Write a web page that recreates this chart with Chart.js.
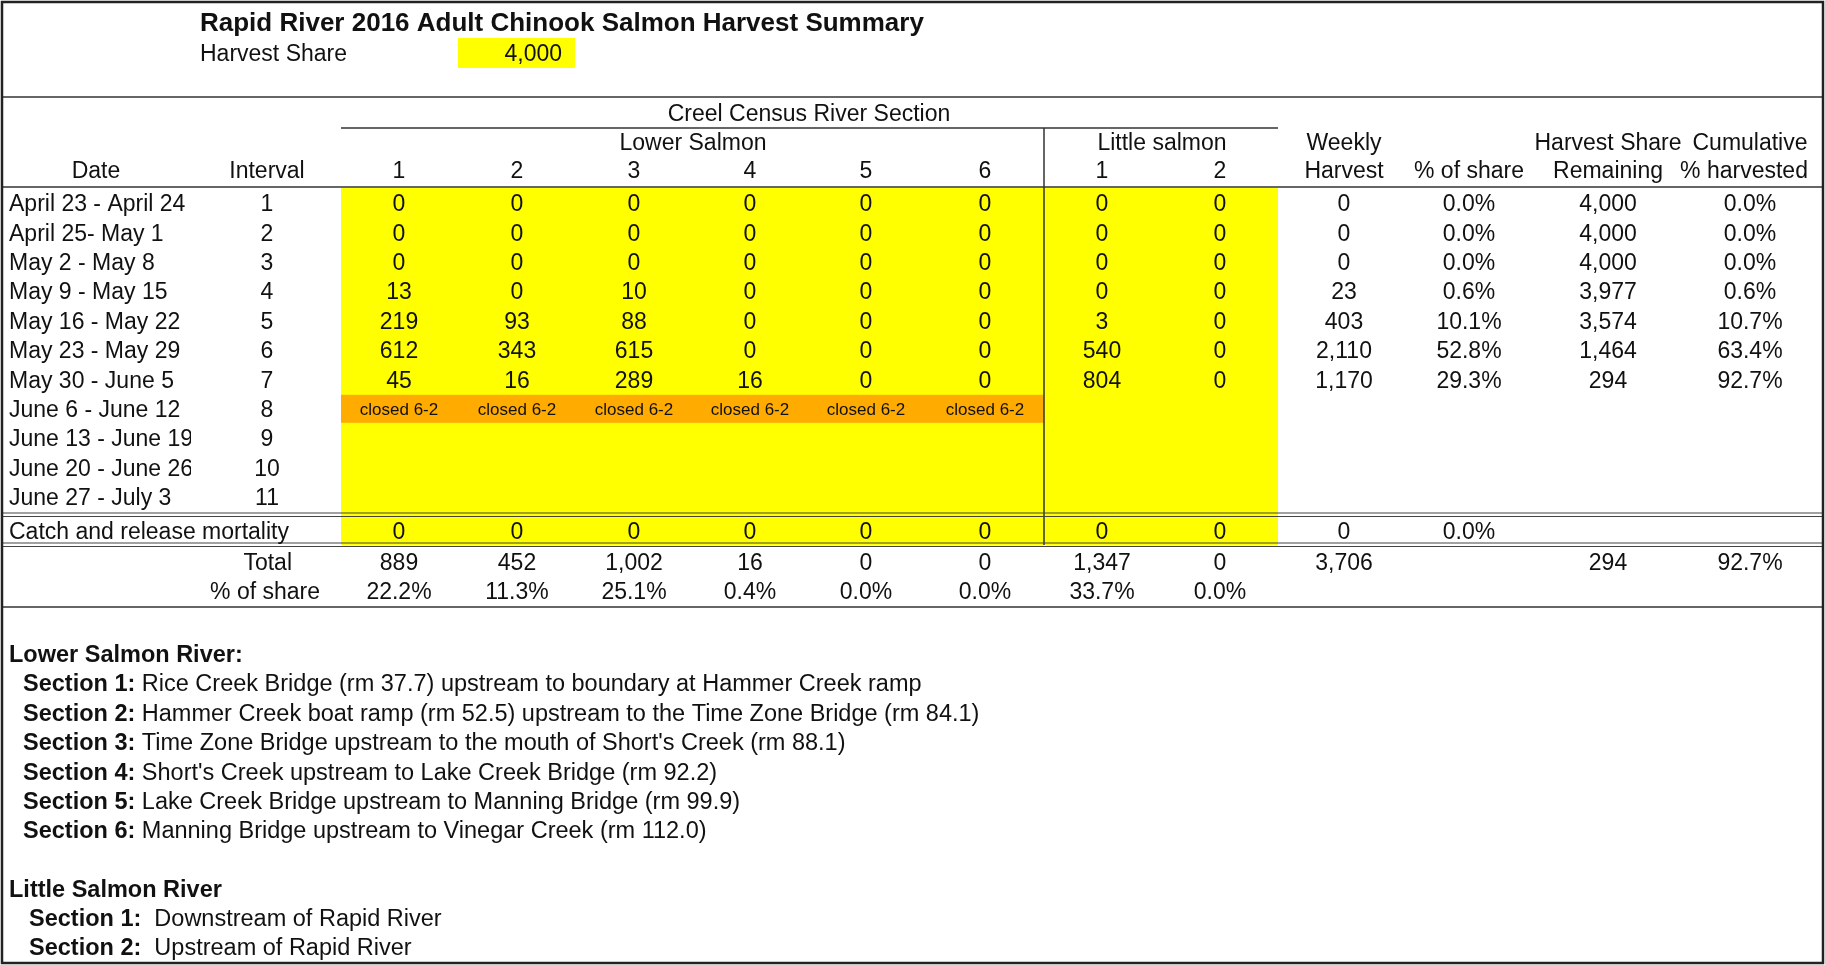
<!DOCTYPE html>
<html>
<head>
<meta charset="utf-8">
<title>Rapid River 2016 Adult Chinook Salmon Harvest Summary</title>
<script src="https://cdn.jsdelivr.net/npm/chart.js@4.4.1/dist/chart.umd.min.js"></script>
<style>
  html, body { margin: 0; padding: 0; background: #fff; }
  #wrap { width: 1825px; height: 965px; }
</style>
</head>
<body>
<div id="wrap"><canvas id="sheet" width="1825" height="965"></canvas></div>
<script>
// ============== Data ==============
const HARVEST_SHARE = 4000;

const DATES = [
  "April 23 - April 24", "April 25- May 1", "May 2 - May 8", "May 9 - May 15",
  "May 16 - May 22", "May 23 - May 29", "May 30 - June 5", "June 6 - June 12",
  "June 13 - June 19", "June 20 - June 26", "June 27 - July 3"
];
const INTERVALS = [1, 2, 3, 4, 5, 6, 7, 8, 9, 10, 11];
const SECTION_LABELS = ["1", "2", "3", "4", "5", "6", "1", "2"];

// weekly harvest per creel section (intervals 1-7)
const LOWER_1 = [0, 0, 0, 13, 219, 612, 45];
const LOWER_2 = [0, 0, 0, 0, 93, 343, 16];
const LOWER_3 = [0, 0, 0, 10, 88, 615, 289];
const LOWER_4 = [0, 0, 0, 0, 0, 0, 16];
const LOWER_5 = [0, 0, 0, 0, 0, 0, 0];
const LOWER_6 = [0, 0, 0, 0, 0, 0, 0];
const LITTLE_1 = [0, 0, 0, 0, 3, 540, 804];
const LITTLE_2 = [0, 0, 0, 0, 0, 0, 0];

const WEEKLY_HARVEST = [0, 0, 0, 23, 403, 2110, 1170];
const PCT_OF_SHARE = [0.0, 0.0, 0.0, 0.6, 10.1, 52.8, 29.3];
const SHARE_REMAINING = [4000, 4000, 4000, 3977, 3574, 1464, 294];
const CUM_PCT = [0.0, 0.0, 0.0, 0.6, 10.7, 63.4, 92.7];

const CLOSED_INTERVAL = 8;
const CLOSED_LABEL = "closed 6-2";

const CR_MORTALITY = [0, 0, 0, 0, 0, 0, 0, 0];
const CR_WEEKLY = 0;
const CR_PCT = 0.0;

const SECTION_TOTALS = [889, 452, 1002, 16, 0, 0, 1347, 0];
const SECTION_PCT = [22.2, 11.3, 25.1, 0.4, 0.0, 0.0, 33.7, 0.0];
const TOTAL_HARVEST = 3706;
const TOTAL_REMAINING = 294;
const TOTAL_CUM_PCT = 92.7;

const LOWER_NOTES = [
  ["Section 1:", " Rice Creek Bridge (rm 37.7) upstream to boundary at Hammer Creek ramp"],
  ["Section 2:", " Hammer Creek boat ramp (rm 52.5) upstream to the Time Zone Bridge (rm 84.1)"],
  ["Section 3:", " Time Zone Bridge upstream to the mouth of Short's Creek (rm 88.1)"],
  ["Section 4:", " Short's Creek upstream to Lake Creek Bridge (rm 92.2)"],
  ["Section 5:", " Lake Creek Bridge upstream to Manning Bridge (rm 99.9)"],
  ["Section 6:", " Manning Bridge upstream to Vinegar Creek (rm 112.0)"]
];
const LITTLE_NOTES = [
  ["Section 1:", "  Downstream of Rapid River"],
  ["Section 2:", "  Upstream of Rapid River"]
];

// ============== Sheet layout (scale units) ==============
const SECTION_X = [399, 517, 634, 750, 866, 985, 1102, 1220];
const DATE_X = 9, DATE_CLIP = 191, INTERVAL_X = 267;
const WEEKLY_X = 1344, PCT_X = 1469, REM_X = 1608, CUM_X = 1750;
const ROW1_Y = 203, ROW_H = 29.4;
const FONT = '"Liberation Sans", Arial, sans-serif';
const SIZE = 23;
const NOTE_SIZE = 23.5;

const fmtInt = v => v.toLocaleString("en-US");
const fmtPct = v => v.toFixed(1) + "%";
const rowY = i => ROW1_Y + i * ROW_H;

// ============== Sheet plugin: draws cells through the x/y scales ==============
const sheetPlugin = {
  id: "sheet",
  beforeDraw(chart) {
    const ctx = chart.ctx;
    const xs = chart.scales.x, ys = chart.scales.y;
    const px = v => xs.getPixelForValue(v);
    const py = v => ys.getPixelForValue(v);

    function rect(x0, y0, x1, y1, color) {
      ctx.fillStyle = color;
      ctx.fillRect(px(x0), py(y0), px(x1) - px(x0), py(y1) - py(y0));
    }
    function hline(y, x0, x1, w, color) {
      ctx.strokeStyle = color || "#333";
      ctx.lineWidth = w || 1.5;
      ctx.beginPath();
      ctx.moveTo(px(x0), py(y));
      ctx.lineTo(px(x1), py(y));
      ctx.stroke();
    }
    function vline(x, y0, y1, w, color) {
      ctx.strokeStyle = color || "#333";
      ctx.lineWidth = w || 1.5;
      ctx.beginPath();
      ctx.moveTo(px(x), py(y0));
      ctx.lineTo(px(x), py(y1));
      ctx.stroke();
    }
    function text(str, x, y, align, opts) {
      const o = opts || {};
      const size = o.size || SIZE;
      ctx.font = (o.bold ? "bold " : "") + size + "px " + FONT;
      ctx.fillStyle = o.color || "#111";
      ctx.textAlign = align || "center";
      ctx.textBaseline = "alphabetic";
      ctx.fillText(str, px(x), py(y) + size * 0.358);
    }

    ctx.save();
    rect(0, 0, 1825, 965, "#fff");

    // fills
    rect(458, 38, 575, 68, "#ffff00");
    rect(341, 188, 1278, 545, "#ffff00");
    rect(341, rowY(CLOSED_INTERVAL - 1) - 14, 1044, rowY(CLOSED_INTERVAL - 1) + 14, "#ffab00");

    // title block
    text("Rapid River 2016 Adult Chinook Salmon Harvest Summary", 200, 22, "left", { bold: true, size: 26 });
    text("Harvest Share", 200, 53, "left");
    text(fmtInt(HARVEST_SHARE), 562, 53, "right");

    // rules
    hline(97, 2, 1823, 1.5);
    hline(128, 341, 1278, 1.5);
    vline(1044, 128, 545, 1.5);
    hline(187, 2, 1823, 1.5);
    hline(513, 2, 1823, 1.2, "#444");
    hline(516.5, 2, 1823, 1.2, "#444");
    hline(543, 2, 1823, 1.2, "#444");
    hline(546.5, 2, 1823, 1.2, "#444");
    hline(607, 2, 1823, 1.5);

    // headers
    text("Creel Census River Section", 809, 113, "center");
    text("Lower Salmon", 693, 142, "center");
    text("Little salmon", 1162, 142, "center");
    text("Weekly", WEEKLY_X, 142, "center");
    text("Harvest Share", REM_X, 142, "center");
    text("Cumulative", CUM_X, 142, "center");
    text("Date", 96, 170, "center");
    text("Interval", INTERVAL_X, 170, "center");
    SECTION_LABELS.forEach((s, c) => text(s, SECTION_X[c], 170, "center"));
    text("Harvest", WEEKLY_X, 170, "center");
    text("% of share", PCT_X, 170, "center");
    text("Remaining", REM_X, 170, "center");
    text("% harvested", 1744, 170, "center");

    // weekly rows
    DATES.forEach((d, i) => {
      ctx.save();
      ctx.beginPath();
      ctx.rect(px(0), py(rowY(i) - 15), px(DATE_CLIP) - px(0), py(rowY(i) + 15) - py(rowY(i) - 15));
      ctx.clip();
      text(d, DATE_X, rowY(i), "left");
      ctx.restore();
      text(String(INTERVALS[i]), INTERVAL_X, rowY(i), "center");
    });
    const sections = [LOWER_1, LOWER_2, LOWER_3, LOWER_4, LOWER_5, LOWER_6, LITTLE_1, LITTLE_2];
    sections.forEach((vals, c) => {
      vals.forEach((v, i) => text(fmtInt(v), SECTION_X[c], rowY(i), "center"));
    });
    WEEKLY_HARVEST.forEach((v, i) => {
      text(fmtInt(v), WEEKLY_X, rowY(i), "center");
      text(fmtPct(PCT_OF_SHARE[i]), PCT_X, rowY(i), "center");
      text(fmtInt(SHARE_REMAINING[i]), REM_X, rowY(i), "center");
      text(fmtPct(CUM_PCT[i]), CUM_X, rowY(i), "center");
    });
    for (let c = 0; c < 6; c++) {
      text(CLOSED_LABEL, SECTION_X[c], rowY(CLOSED_INTERVAL - 1), "center", { size: 17 });
    }

    // catch and release
    text("Catch and release mortality", DATE_X, 531, "left");
    CR_MORTALITY.forEach((v, c) => text(fmtInt(v), SECTION_X[c], 531, "center"));
    text(fmtInt(CR_WEEKLY), WEEKLY_X, 531, "center");
    text(fmtPct(CR_PCT), PCT_X, 531, "center");

    // totals
    text("Total", 292, 562, "right");
    text("% of share", 320, 591, "right");
    SECTION_TOTALS.forEach((v, c) => text(fmtInt(v), SECTION_X[c], 562, "center"));
    SECTION_PCT.forEach((v, c) => text(fmtPct(v), SECTION_X[c], 591, "center"));
    text(fmtInt(TOTAL_HARVEST), WEEKLY_X, 562, "center");
    text(fmtInt(TOTAL_REMAINING), REM_X, 562, "center");
    text(fmtPct(TOTAL_CUM_PCT), CUM_X, 562, "center");

    // notes
    function note(pair, x, y) {
      ctx.font = "bold " + NOTE_SIZE + "px " + FONT;
      const w = ctx.measureText(pair[0]).width;
      text(pair[0], x, y, "left", { bold: true, size: NOTE_SIZE });
      text(pair[1], x + w, y, "left", { size: NOTE_SIZE });
    }
    text("Lower Salmon River:", DATE_X, 654, "left", { bold: true, size: NOTE_SIZE });
    LOWER_NOTES.forEach((p, i) => note(p, 23, 683 + i * 29.4));
    text("Little Salmon River", DATE_X, 889, "left", { bold: true, size: NOTE_SIZE });
    LITTLE_NOTES.forEach((p, i) => note(p, 29, 918 + i * 29));

    // outer border
    ctx.strokeStyle = "#222";
    ctx.lineWidth = 2.5;
    ctx.strokeRect(px(2), py(2), px(1823) - px(2), py(963) - py(2));
    ctx.restore();
  }
};

// ============== Boot ==============
new Chart(document.getElementById("sheet").getContext("2d"), {
  type: "scatter",
  data: { datasets: [] },
  options: {
    responsive: false,
    animation: false,
    devicePixelRatio: 1,
    layout: { padding: 0 },
    scales: {
      x: { type: "linear", min: 0, max: 1825, display: false },
      y: { type: "linear", min: 0, max: 965, reverse: true, display: false }
    },
    plugins: { legend: { display: false }, tooltip: { enabled: false } }
  },
  plugins: [sheetPlugin]
});
</script>
</body>
</html>
